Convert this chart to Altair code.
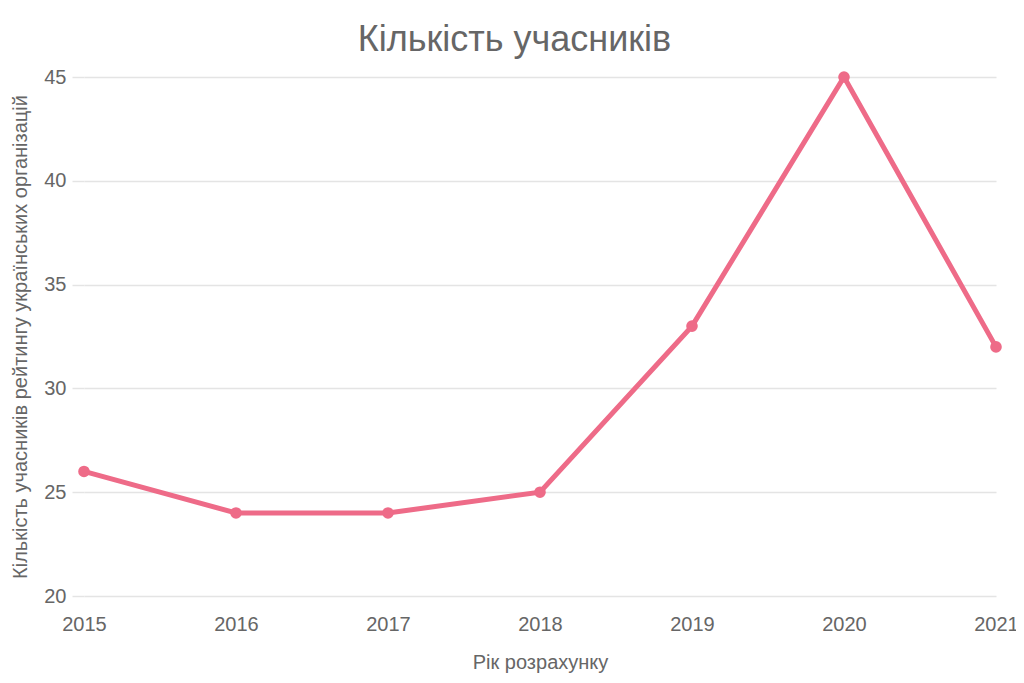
import altair as alt
import pandas as pd

years = [2015, 2016, 2017, 2018, 2019, 2020, 2021]
counts = [26, 24, 24, 25, 33, 45, 32]
y_ticks = [20, 25, 30, 35, 40, 45]

df = pd.DataFrame({"year": years, "count": counts})

FONT = "Liberation Sans"
GREY = "#666666"
COLOR = "#ee6b88"

x = alt.X("year:Q",
          scale=alt.Scale(domain=[2015, 2021], nice=False, zero=False),
          axis=alt.Axis(title="Рік розрахунку", format="d", values=years, grid=False,
                        domain=False, ticks=False, labelPadding=18, labelFontSize=20,
                        labelColor=GREY, labelFont=FONT, titleFont=FONT, titleFontSize=20,
                        titleColor=GREY, titleFontWeight="normal", titlePadding=18,
                        labelFlush=False))
y = alt.Y("count:Q",
          scale=alt.Scale(domain=[20, 45], nice=False, zero=False),
          axis=alt.Axis(title="Кількість учасників рейтингу українських організацій",
                        values=y_ticks, grid=True, gridColor="#e4e4e4", gridWidth=1.5,
                        domain=False, ticks=True, tickSize=12, tickColor="#e4e4e4",
                        tickWidth=1.5, labelPadding=6, labelFontSize=20, labelColor=GREY,
                        labelFont=FONT, titleFont=FONT, titleFontSize=20, titleColor=GREY,
                        titleFontWeight="normal", titlePadding=13))

chart = alt.Chart(df).mark_line(
    color=COLOR, strokeWidth=5,
    point=alt.OverlayMarkDef(color=COLOR, filled=True, size=135, opacity=1)
).encode(x=x, y=y).properties(
    width=912, height=519,
    title=alt.TitleParams("Кількість учасників", font=FONT, fontSize=36, color=GREY,
                          fontWeight="normal", anchor="middle", frame="bounds", offset=8),
    autosize=alt.AutoSizeParams(type="none"),
    padding={"left": 76, "top": 69, "right": 20, "bottom": 79},
).configure_view(stroke=None)

chart.save("out.html", embed_options={"renderer": "svg", "actions": False})
